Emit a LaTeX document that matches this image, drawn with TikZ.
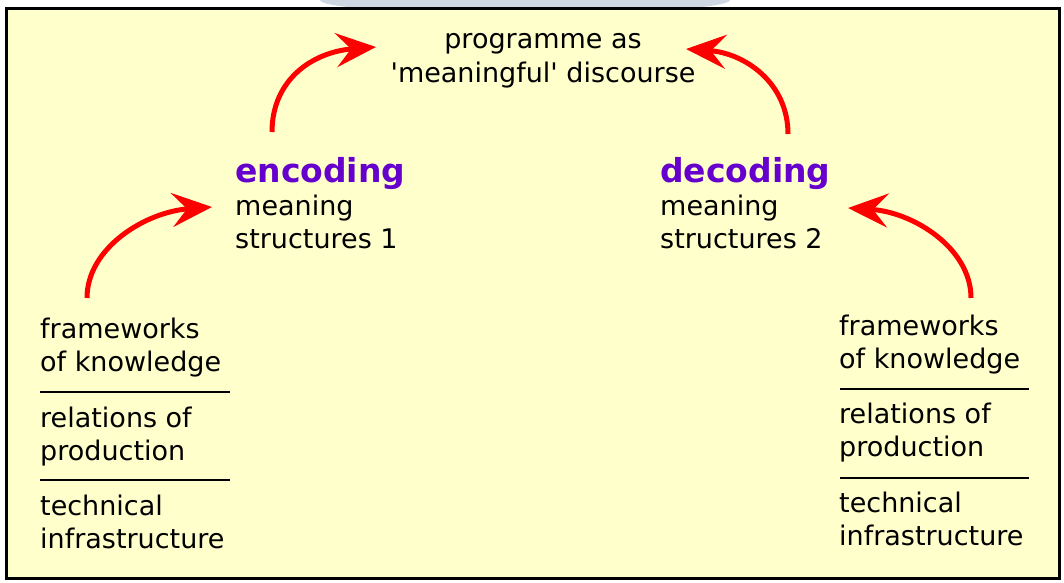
\documentclass[tikz,border=0pt]{standalone}
\usepackage{fontspec}
\newfontfamily\dv{DejaVu Sans}
\usetikzlibrary{arrows.meta}
\definecolor{bg}{HTML}{FFFFCC}
\definecolor{purp}{HTML}{6600CC}
\definecolor{blob}{HTML}{CDD6E2}
\begin{document}
\begin{tikzpicture}[x=1pt,y=-1pt,
  txt/.style={font=\dv\fontsize{27}{33}\selectfont, inner sep=0pt, anchor=base west},
  arr/.style={red, line width=5pt, -{Stealth[length=40pt,width=34pt,inset=15pt]}},
  sepline/.style={black, line width=2.5pt}]
\useasboundingbox (0,0) rectangle (1064,582);
\fill[blob] (525,0) ellipse (205 and 14);
\draw[fill=bg, line width=3pt] (6,8) rectangle (1059,578);

% top text
\node[txt, anchor=base, font=\dv\fontsize{27}{34}\selectfont] (prog) at (543,48)
  {\begin{tabular}[t]{@{}c@{}}programme as\\\textquotesingle meaningful\textquotesingle{} discourse\end{tabular}};

% encoding / decoding
\node[txt] (enc) at (235,182)
  {\begin{tabular}[t]{@{}l@{}}{\fontsize{33}{33}\selectfont\bfseries\color{purp}encoding}\\meaning\\structures 1\end{tabular}};
\node[txt] (dec) at (660,182)
  {\begin{tabular}[t]{@{}l@{}}{\fontsize{33}{33}\selectfont\bfseries\color{purp}decoding}\\meaning\\structures 2\end{tabular}};

% left stack
\node[txt] (lfw) at (40,338) {\begin{tabular}[t]{@{}l@{}}frameworks\\of knowledge\end{tabular}};
\node[txt] (lrp) at (40,427) {\begin{tabular}[t]{@{}l@{}}relations of\\production\end{tabular}};
\node[txt] (lti) at (40,515) {\begin{tabular}[t]{@{}l@{}}technical\\infrastructure\end{tabular}};
\draw[sepline] (40,392) -- (230,392);
\draw[sepline] (40,480) -- (230,480);

% right stack
\node[txt] (rfw) at (839,335) {\begin{tabular}[t]{@{}l@{}}frameworks\\of knowledge\end{tabular}};
\node[txt] (rrp) at (839,423) {\begin{tabular}[t]{@{}l@{}}relations of\\production\end{tabular}};
\node[txt] (rti) at (839,512) {\begin{tabular}[t]{@{}l@{}}technical\\infrastructure\end{tabular}};
\draw[sepline] (840,389) -- (1029,389);
\draw[sepline] (840,478) -- (1029,478);

% arrow end points
\coordinate (encS) at (272,132);
\coordinate (progL) at (376,47);
\coordinate (decS) at (788,134);
\coordinate (progR) at (686,49);
\coordinate (lfwS) at (87,298);
\coordinate (encL) at (212,207);
\coordinate (rfwS) at (971,298);
\coordinate (decR) at (848,208);

\draw[arr] (encS) .. controls (272,80) and (312,52) .. (progL);
\draw[arr] (decS) .. controls (788,83) and (745,53) .. (progR);
\draw[arr] (lfwS) .. controls (87,248) and (145,212) .. (encL);
\draw[arr] (rfwS) .. controls (971,248) and (913,212) .. (decR);
\end{tikzpicture}
\end{document}
